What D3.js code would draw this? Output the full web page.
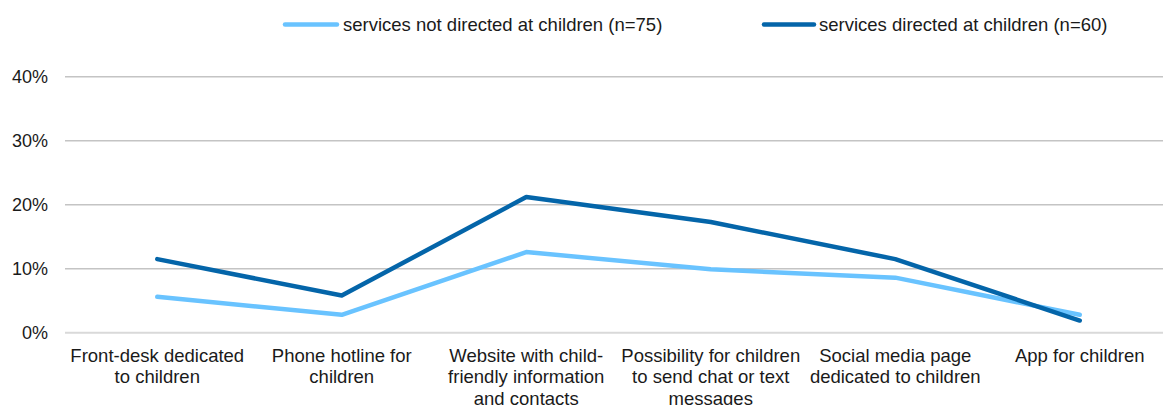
<!DOCTYPE html>
<html>
<head>
<meta charset="utf-8">
<script src="https://cdn.jsdelivr.net/npm/d3@7"></script>
<style>
  html, body { margin: 0; padding: 0; background: #fff; overflow: hidden; }
  svg { display: block; font-family: Arial, "Liberation Sans", sans-serif; }
</style>
</head>
<body>
<svg id="chart" width="1163" height="405"></svg>
<script>
const categories = [
  "Front-desk dedicated\nto children",
  "Phone hotline for\nchildren",
  "Website with child-\nfriendly information\nand contacts",
  "Possibility for children\nto send chat or text\nmessages",
  "Social media page\ndedicated to children",
  "App for children"
];
const seriesNames = [
  "services not directed at children (n=75)",
  "services directed at children (n=60)"
];
const notDirected = [0.056, 0.028, 0.126, 0.099, 0.086, 0.028];
const directed    = [0.115, 0.058, 0.212, 0.173, 0.115, 0.019];
const yTicks = [0, 0.1, 0.2, 0.3, 0.4];
const colors = ["#69C3FF", "#0465A9"];

(function () {
const svg = d3.select("#chart");
const mLeft = 65, mRight = 1172, mTop = 76.7, mBottom = 332.7;
const textColor = "#1a1a1a";

const x = d3.scaleBand().domain(categories).range([mLeft, mRight]);
const y = d3.scaleLinear().domain([0, 0.4]).range([mBottom, mTop]);

// gridlines
svg.append("g").selectAll("line").data(yTicks).join("line")
  .attr("x1", mLeft).attr("x2", 1163)
  .attr("y1", d => y(d)).attr("y2", d => y(d))
  .attr("stroke", d => d === 0 ? "#d9d9d9" : "#c4c4c4")
  .attr("stroke-width", d => d === 0 ? 2 : 1.5);

// y axis labels
const yAxis = d3.axisLeft(y).tickValues(yTicks).tickFormat(d3.format(".0%")).tickSize(0).tickPadding(0);
const yg = svg.append("g").attr("transform", "translate(48,0)").call(yAxis);
yg.select(".domain").remove();
yg.selectAll("text").attr("font-size", 18).attr("fill", textColor)
  .attr("font-family", "Arial, 'Liberation Sans', sans-serif");

// x axis labels
const xl = svg.append("g").selectAll("text").data(categories).join("text")
  .attr("text-anchor", "middle")
  .attr("font-size", 18.5).attr("fill", textColor)
  .attr("transform", d => `translate(${x(d) + x.bandwidth() / 2},361.5)`);
xl.selectAll("tspan").data(d => d.split("\n")).join("tspan")
  .attr("x", 0).attr("dy", (d, i) => i === 0 ? 0 : 21.5).text(d => d);

// lines
const line = d3.line()
  .x((d, i) => x(categories[i]) + x.bandwidth() / 2)
  .y(d => y(d));
[notDirected, directed].forEach((s, k) => {
  svg.append("path").datum(s)
    .attr("d", line).attr("fill", "none")
    .attr("stroke", colors[k]).attr("stroke-width", 4.5)
    .attr("stroke-linejoin", "round").attr("stroke-linecap", "round");
});

// legend
const legendPos = [{x1: 285, x2: 337, tx: 343}, {x1: 764, x2: 814, tx: 819}];
seriesNames.forEach((n, k) => {
  const g = svg.append("g");
  g.append("line").attr("x1", legendPos[k].x1).attr("x2", legendPos[k].x2)
    .attr("y1", 24.5).attr("y2", 24.5)
    .attr("stroke", colors[k]).attr("stroke-width", 4.5).attr("stroke-linecap", "round");
  g.append("text").attr("x", legendPos[k].tx).attr("y", 31)
    .attr("font-size", 18.5).attr("fill", textColor).text(n);
});
})();
</script>
</body>
</html>
